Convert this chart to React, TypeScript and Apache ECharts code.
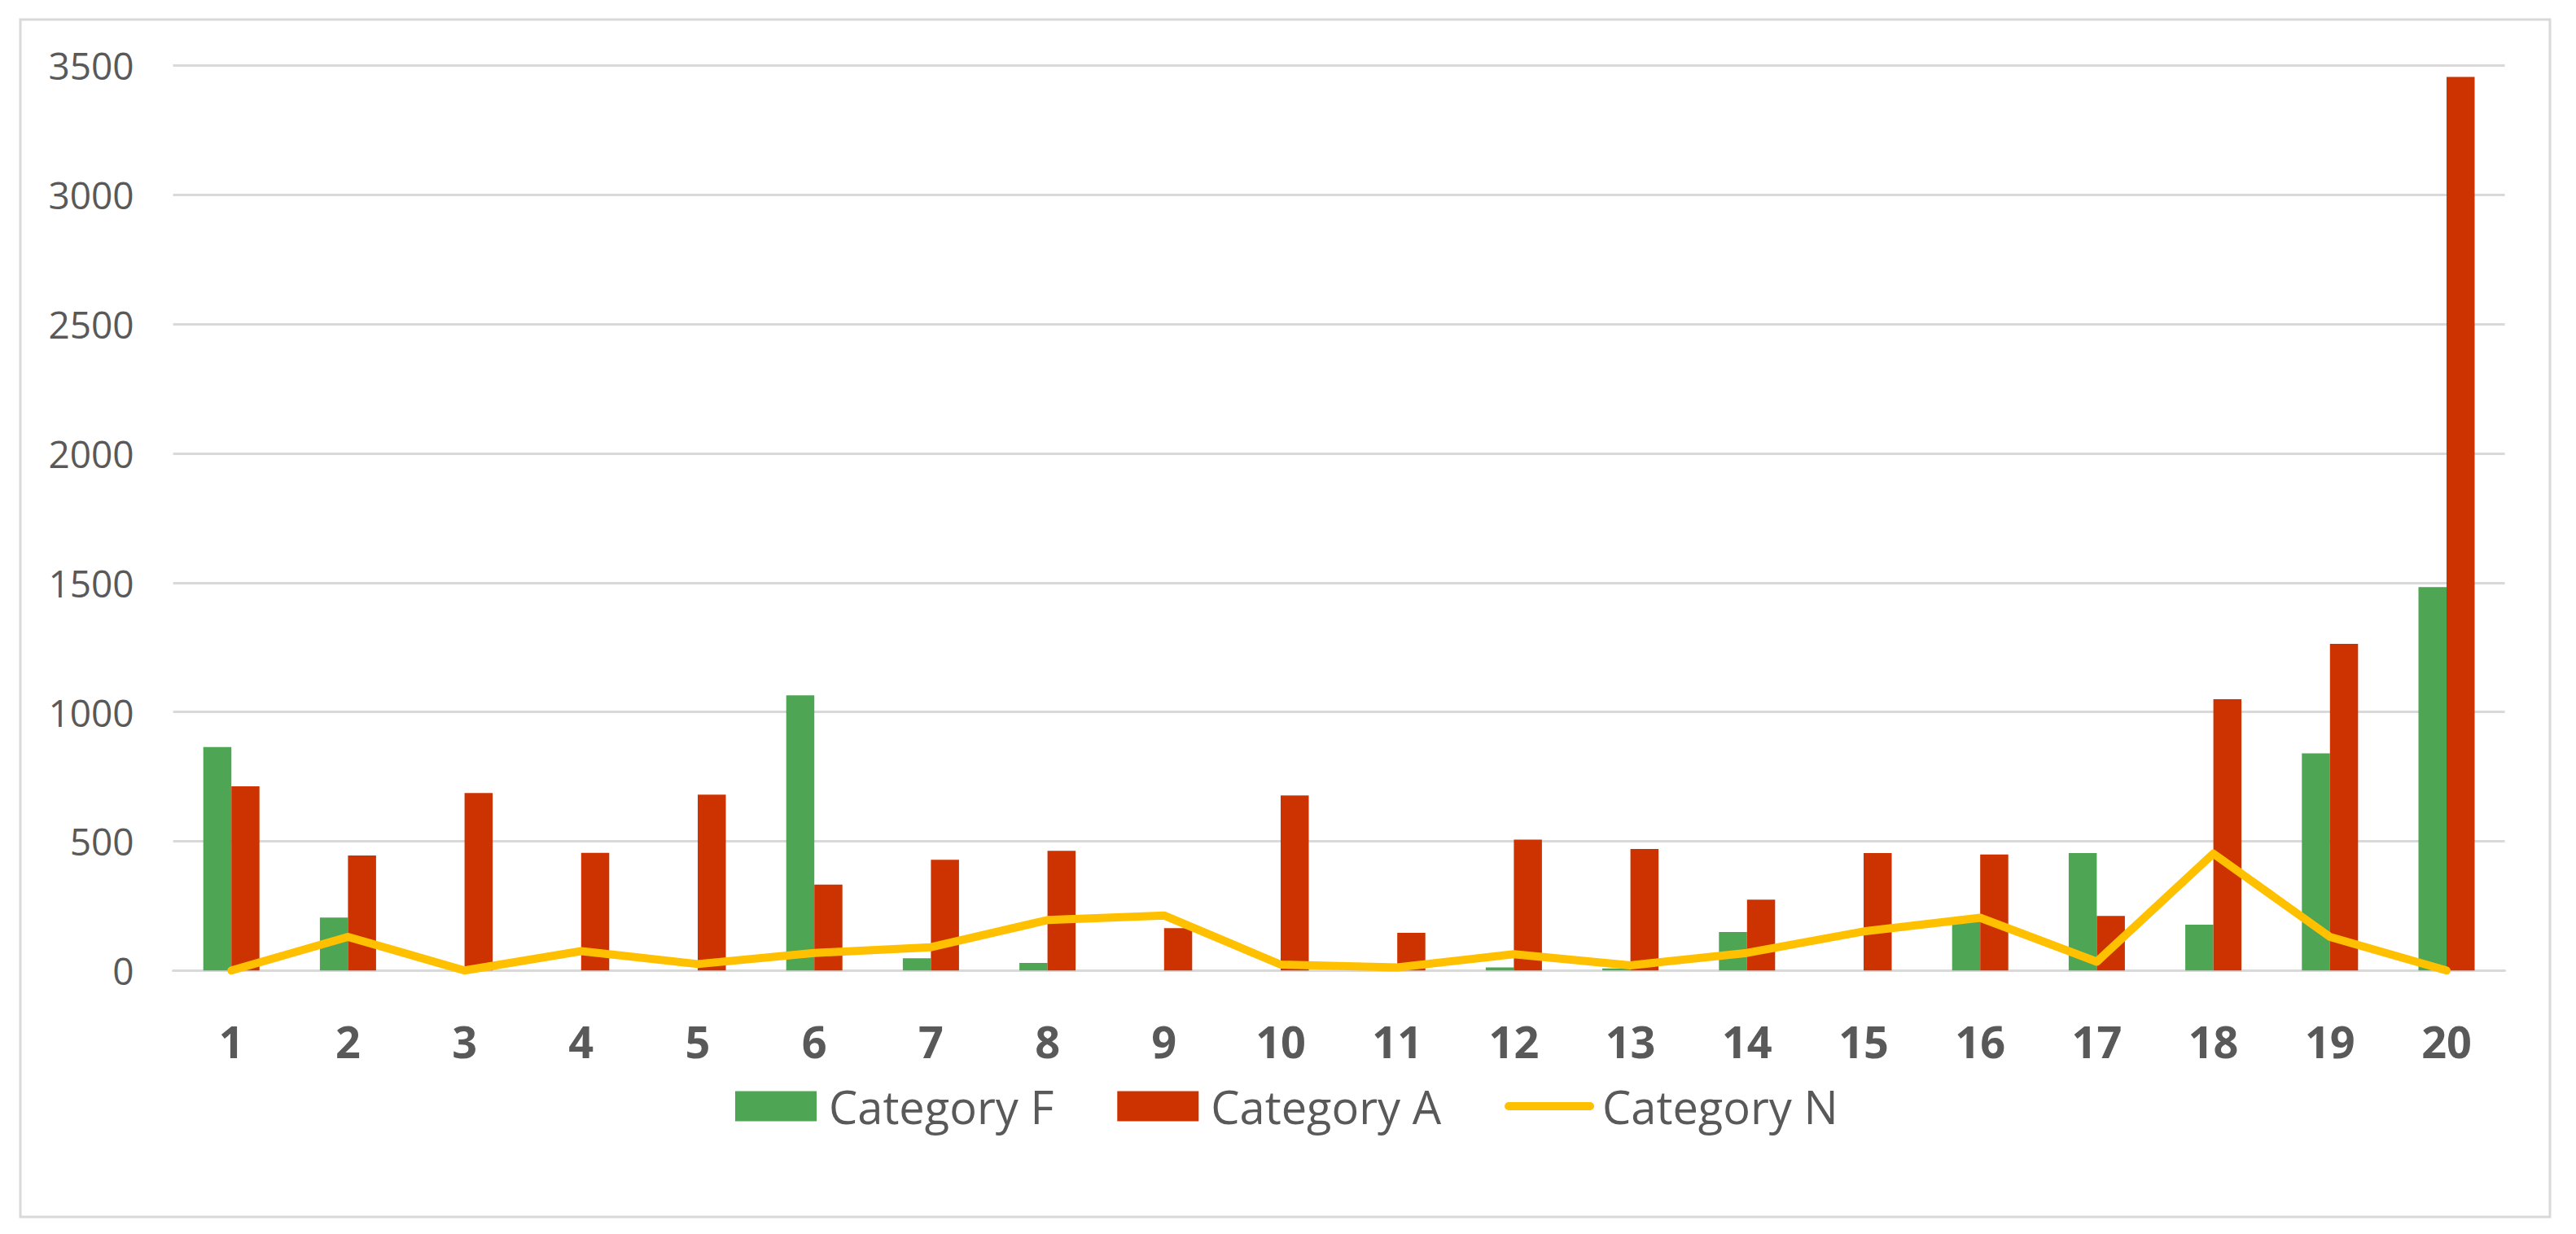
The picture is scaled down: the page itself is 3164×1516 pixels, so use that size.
import React, { useEffect, useRef } from "react";
import * as echarts from "echarts";

const categories = ["1","2","3","4","5","6","7","8","9","10","11","12","13","14","15","16","17","18","19","20"];
const categoryF = [864, 205, 0, 0, 0, 1064, 47, 29, 0, 0, 0, 12, 8, 149, 0, 204, 454, 177, 840, 1483];
const categoryA = [712, 445, 686, 455, 680, 332, 428, 463, 164, 677, 146, 506, 470, 274, 454, 449, 211, 1049, 1263, 3456];
const categoryN = [0, 130, 0, 75, 25, 68, 90, 195, 213, 23, 12, 63, 20, 68, 151, 204, 34, 452, 130, 0];
const seriesNames = ["Category F", "Category A", "Category N"];

const W = 3164;
const H = 1516;
const FONT = "'Open Sans', 'DejaVu Sans', sans-serif";

export default function App() {
  const ref = useRef<HTMLDivElement>(null);
  useEffect(() => {
    if (!ref.current) return;
    const chart = echarts.init(ref.current, undefined, { renderer: "svg", width: W, height: H });
    chart.setOption({
      animation: false,
      backgroundColor: "#ffffff",
      textStyle: { fontFamily: FONT },
      graphic: [
        {
          type: "rect",
          shape: { x: 25, y: 24, width: 3107, height: 1471 },
          style: { fill: "none", stroke: "#D9D9D9", lineWidth: 3 },
          silent: true,
        },
      ],
      grid: { left: 212.6, right: W - 3076.6, top: 80.4, bottom: H - 1192.3, containLabel: false },
      legend: {
        left: 898,
        top: 1326,
        itemWidth: 100,
        itemHeight: 37,
        itemGap: 78,
        textStyle: {
          fontFamily: FONT,
          fontSize: 56,
          lineHeight: 56,
          color: "#595959",
          padding: [0, 0, 0, 10],
        },
        data: [
          { name: seriesNames[0], icon: "rect" },
          { name: seriesNames[1], icon: "rect" },
          {
            name: seriesNames[2],
            itemStyle: { opacity: 0 },
            lineStyle: { width: 10, cap: "round", color: "#FFC000" },
          },
        ],
      },
      xAxis: {
        type: "category",
        data: categories,
        axisLine: { show: true, lineStyle: { color: "#D9D9D9", width: 3 } },
        axisTick: { show: false },
        axisLabel: {
          color: "#595959",
          fontFamily: FONT,
          fontSize: 54,
          lineHeight: 54,
          fontWeight: "bold",
          margin: 60,
        },
      },
      yAxis: {
        type: "value",
        min: 0,
        max: 3500,
        interval: 500,
        axisLine: { show: false },
        axisTick: { show: false },
        splitLine: { lineStyle: { color: "#D9D9D9", width: 3 } },
        axisLabel: {
          color: "#595959",
          fontFamily: FONT,
          fontSize: 46,
          margin: 48,
          formatter: (v: number) => String(v),
        },
      },
      series: [
        {
          name: seriesNames[0],
          type: "bar",
          data: categoryF,
          barWidth: 34.5,
          barGap: "0%",
          itemStyle: { color: "#4EA553" },
        },
        {
          name: seriesNames[1],
          type: "bar",
          data: categoryA,
          barWidth: 34.5,
          barGap: "0%",
          itemStyle: { color: "#CC3300" },
        },
        {
          name: seriesNames[2],
          type: "line",
          data: categoryN,
          symbol: "none",
          lineStyle: { color: "#FFC000", width: 10, cap: "round", join: "round" },
          itemStyle: { color: "#FFC000" },
          z: 5,
        },
      ],
    });
    return () => chart.dispose();
  }, []);
  return (
    <div
      ref={ref}
      style={{ position: "absolute", left: 0, top: 0, width: W, height: H, background: "#fff" }}
    />
  );
}
